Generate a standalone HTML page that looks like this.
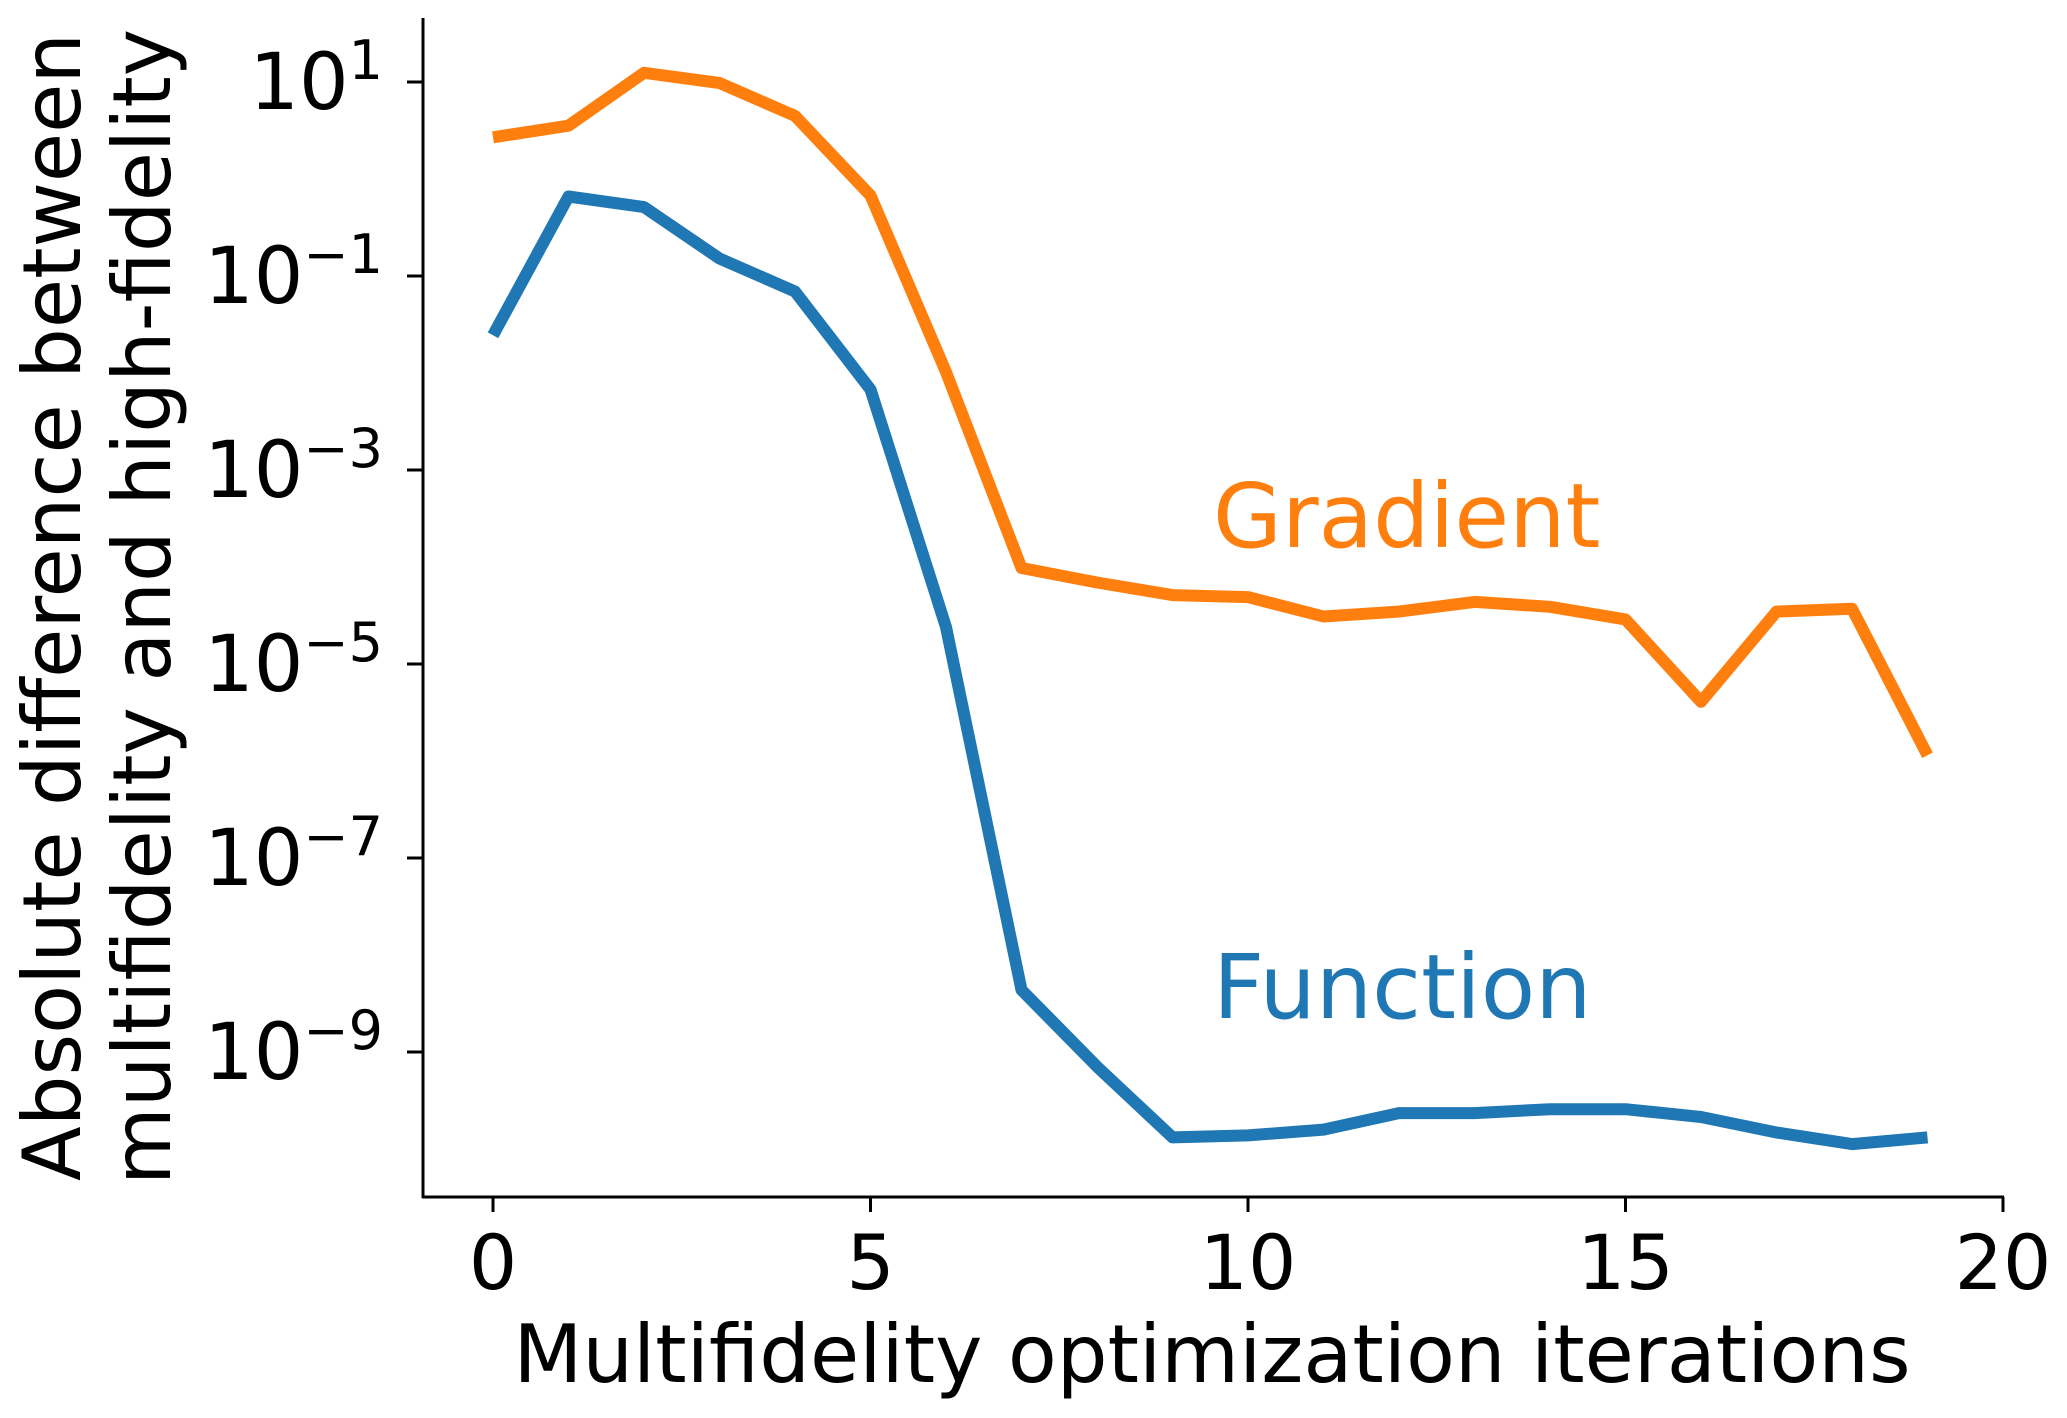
<!DOCTYPE html>
<html><head><meta charset="utf-8"><style>
html,body{margin:0;padding:0;background:#fff}
svg{display:block}
text{font-family:"DejaVu Sans","Liberation Sans",sans-serif}
</style></head><body>
<svg id="chart" width="2067" height="1418" viewBox="0 0 2067 1418" xmlns="http://www.w3.org/2000/svg">
<g id="axes"></g>
<g id="series"></g>
<text x="1213" y="547" font-size="89" fill="#ff7f0e">Gradient</text>
<text x="1213" y="1018" font-size="89" fill="#1f77b4">Function</text>
<text x="1212" y="1382" font-size="80" text-anchor="middle">Multifidelity optimization iterations</text>
<g transform="translate(0,607) rotate(-90)">
<text x="0" y="80" font-size="80" text-anchor="middle">Absolute difference between</text>
<text x="0" y="170" font-size="80" text-anchor="middle">multifidelity and high-fidelity</text>
</g>
</svg>
<script>
const iterations = [0,1,2,3,4,5,6,7,8,9,10,11,12,13,14,15,16,17,18,19];
const gradientLog10 = [0.43,0.55,1.095,0.99,0.65,-0.17,-1.99,-4.01,-4.16,-4.29,-4.31,-4.51,-4.46,-4.36,-4.41,-4.54,-5.39,-4.46,-4.43,-5.94];
const functionLog10 = [-1.61,-0.18,-0.29,-0.82,-1.16,-2.17,-4.62,-8.36,-9.15,-9.88,-9.86,-9.80,-9.63,-9.63,-9.59,-9.59,-9.67,-9.83,-9.95,-9.88];
const xTicks = [0,5,10,15,20];
const yTickExps = [1,-1,-3,-5,-7,-9];

const NS = "http://www.w3.org/2000/svg";
function xs(v){ return 493 + v*75.5; }
function ys(e){ return 82 + (1-e)*97; }
function mk(tag, attrs, parent){ const el=document.createElementNS(NS,tag); for(const k in attrs) el.setAttribute(k,attrs[k]); parent.appendChild(el); return el; }
const axes=document.getElementById('axes');
const series=document.getElementById('series');

let sp=mk('line',{x1:423,y1:18,x2:423,y2:1198,stroke:'#000','stroke-width':3},axes);


let sx=mk('line',{x1:422,y1:1197,x2:2004,y2:1197,stroke:'#000','stroke-width':3},axes);



xTicks.forEach(t=>{
  const x=xs(t);
  const tk=mk('line',{x1:x,y1:1197,x2:x,y2:1212,stroke:'#000','stroke-width':3},axes);
  
  
  const lb=mk('text',{x:x,y:1289,'font-size':76,'text-anchor':'middle'},axes);
  lb.textContent=String(t);
  
  
});
yTickExps.forEach(e=>{
  const y=ys(e);
  const tk=mk('line',{x1:407,y1:y,x2:423,y2:y,stroke:'#000','stroke-width':3},axes);
  
  
  const lb=mk('text',{x:383,y:y+27,'font-size':78,'text-anchor':'end'},axes);
  
  
  const a=document.createElementNS(NS,'tspan'); a.textContent='10'; lb.appendChild(a);
  const b=document.createElementNS(NS,'tspan'); b.setAttribute('font-size','54'); b.setAttribute('dy','-30');
  b.textContent=(e<0?'\u2212':'')+Math.abs(e); lb.appendChild(b);
});

function drawLine(vals,color,name){
  const pts=iterations.map((it,i)=>xs(it).toFixed(1)+','+ys(vals[i]).toFixed(1)).join(' ');
  const pl=mk('polyline',{points:pts,fill:'none',stroke:color,'stroke-width':12,'stroke-linejoin':'round'},series);
  
  
}
drawLine(gradientLog10,'#ff7f0e','gradient-line');
drawLine(functionLog10,'#1f77b4','function-line');
</script>
</body></html>
